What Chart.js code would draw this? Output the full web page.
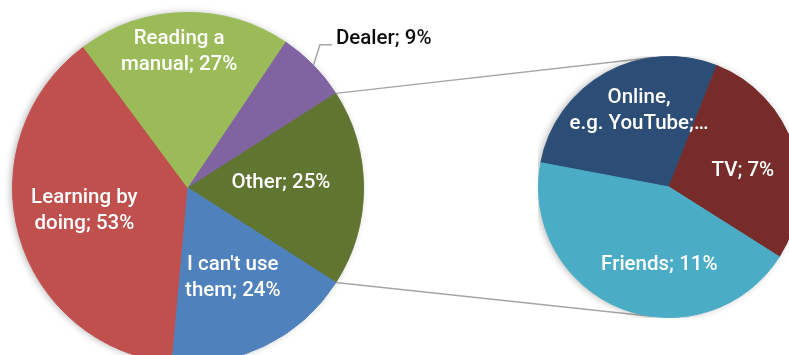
<!DOCTYPE html>
<html><head><meta charset="utf-8">
<script src="https://cdn.jsdelivr.net/npm/chart.js@4.4.1/dist/chart.umd.min.js"></script>
<style>
html,body{margin:0;padding:0;background:#fff;width:789px;height:355px;overflow:hidden;position:relative}
canvas{position:absolute}
#main{left:0;top:0}
#sub{left:538px;top:56px}
</style></head><body>
<canvas id="main" width="789" height="380"></canvas>
<canvas id="sub" width="262" height="262"></canvas>
<script>
// ---- data ----
const mainCategories = ["Learning by doing", "Reading a manual", "Dealer", "Other", "I can't use them"];
const mainValues = [53, 27, 9, 25, 24];
const mainLabelLines = [["Learning by", "doing; 53%"], ["Reading a", "manual; 27%"], ["Dealer; 9%"], ["Other; 25%"], ["I can't use", "them; 24%"]];
const subCategories = ["Online, e.g. YouTube", "TV", "Friends"];
const subValues = [7, 7, 11];
const subLabelLines = [["Online,", "e.g. YouTube;\u2026"], ["TV; 7%"], ["Friends; 11%"]];

// ---- styles ----
const mainColors = ["#C0504D", "#9BBB59", "#8064A2", "#5F7530", "#4F81BD"];
const subColors = ["#2C4D75", "#772C2A", "#4BACC6"];
const FONT = "Roboto, 'Liberation Sans', sans-serif";
const FONT_SIZE = 20.5;
const FONT_WEIGHT = 500;
const LINE_H = 26;
// label placement: radial fraction of radius, angle tweak (deg)
const mainPlacement = [{r:0.605, da:3.1}, {r:0.78, da:-2.4}, {outside:true, r:1.11, da:-3, tail:12}, {r:0.53, da:-3}, {r:0.57, da:-0.5}];
const subPlacement = [{r:0.63, da:7.5}, {r:0.58, da:5.5}, {r:0.6, da:-14.4}];

function shadowPlugin() {
  return {
    id: 'shadow',
    beforeDatasetsDraw(chart) {
      const arc = chart.getDatasetMeta(0).data[0];
      const ctx = chart.ctx;
      ctx.save();
      ctx.shadowColor = 'rgba(0,0,0,0.28)';
      ctx.shadowBlur = 7;
      ctx.shadowOffsetX = -2;
      ctx.shadowOffsetY = 0;
      ctx.fillStyle = '#fff';
      ctx.beginPath();
      ctx.arc(arc.x, arc.y, arc.outerRadius, 0, Math.PI * 2);
      ctx.fill();
      ctx.restore();
    }
  };
}

function labelPlugin(lines, placement) {
  return {
    id: 'labels',
    afterDatasetsDraw(chart) {
      const ctx = chart.ctx;
      const meta = chart.getDatasetMeta(0);
      ctx.save();
      ctx.font = FONT_WEIGHT + ' ' + FONT_SIZE + 'px ' + FONT;
      meta.data.forEach((arc, i) => {
        const p = placement[i];
        const a = (arc.startAngle + arc.endAngle) / 2 + p.da * Math.PI / 180;
        const R = arc.outerRadius;
        const x = arc.x + Math.cos(a) * R * p.r;
        const y = arc.y + Math.sin(a) * R * p.r;
        if (p.outside) {
          const ex = arc.x + Math.cos((arc.startAngle + arc.endAngle) / 2) * R;
          const ey = arc.y + Math.sin((arc.startAngle + arc.endAngle) / 2) * R;
          ctx.strokeStyle = '#a6a6a6';
          ctx.lineWidth = 1.5;
          ctx.beginPath();
          ctx.moveTo(ex, ey);
          ctx.lineTo(x, y);
          ctx.lineTo(x + p.tail, y);
          ctx.stroke();
          ctx.fillStyle = '#0d0d0d';
          ctx.textAlign = 'left';
          ctx.textBaseline = 'middle';
          ctx.fillText(lines[i][0], x + p.tail + 4, y - 6);
        } else {
          ctx.fillStyle = '#fff';
          ctx.textAlign = 'center';
          ctx.textBaseline = 'middle';
          const n = lines[i].length;
          lines[i].forEach((t, k) => {
            ctx.fillText(t, x, y + (k - (n - 1) / 2) * LINE_H);
          });
        }
      });
      ctx.restore();
    }
  };
}

const subChart = new Chart(document.getElementById('sub'), {
  type: 'pie',
  data: { labels: subCategories, datasets: [{ data: subValues, backgroundColor: subColors, borderColor: subColors, borderWidth: 1 }] },
  options: {
    responsive: false, animation: false, rotation: -79.3,
    layout: { padding: 0 },
    plugins: { legend: { display: false }, tooltip: { enabled: false } }
  },
  plugins: [shadowPlugin(), labelPlugin(subLabelLines, subPlacement)]
});

const connectorPlugin = {
  id: 'connectors',
  afterDraw(chart) {
    const other = chart.getDatasetMeta(0).data[mainCategories.indexOf("Other")];
    const sArc = subChart.getDatasetMeta(0).data[0];
    const sc = document.getElementById('sub');
    const sx = sArc.x + sc.offsetLeft, sy = sArc.y + sc.offsetTop, sr = sArc.outerRadius;
    const R = other.outerRadius;
    const p1 = [other.x + Math.cos(other.startAngle) * R, other.y + Math.sin(other.startAngle) * R];
    const p2 = [other.x + Math.cos(other.endAngle) * R, other.y + Math.sin(other.endAngle) * R];
    const t = -97 * Math.PI / 180, b = 97 * Math.PI / 180;
    const ctx = chart.ctx;
    ctx.save();
    ctx.strokeStyle = '#a6a6a6';
    ctx.lineWidth = 1.5;
    ctx.beginPath();
    ctx.moveTo(p1[0], p1[1]);
    ctx.lineTo(sx + Math.cos(t) * sr, sy + Math.sin(t) * sr);
    ctx.moveTo(p2[0], p2[1]);
    ctx.lineTo(sx + Math.cos(b) * sr, sy + Math.sin(b) * sr);
    ctx.stroke();
    ctx.restore();
  }
};

new Chart(document.getElementById('main'), {
  type: 'pie',
  data: { labels: mainCategories, datasets: [{ data: mainValues, backgroundColor: mainColors, borderColor: mainColors, borderWidth: 1 }] },
  options: {
    responsive: false, animation: false, rotation: -174.8,
    layout: { padding: { left: 12, top: 12, right: 425, bottom: 16 } },
    plugins: { legend: { display: false }, tooltip: { enabled: false } }
  },
  plugins: [shadowPlugin(), labelPlugin(mainLabelLines, mainPlacement), connectorPlugin]
});
</script>
</body></html>
